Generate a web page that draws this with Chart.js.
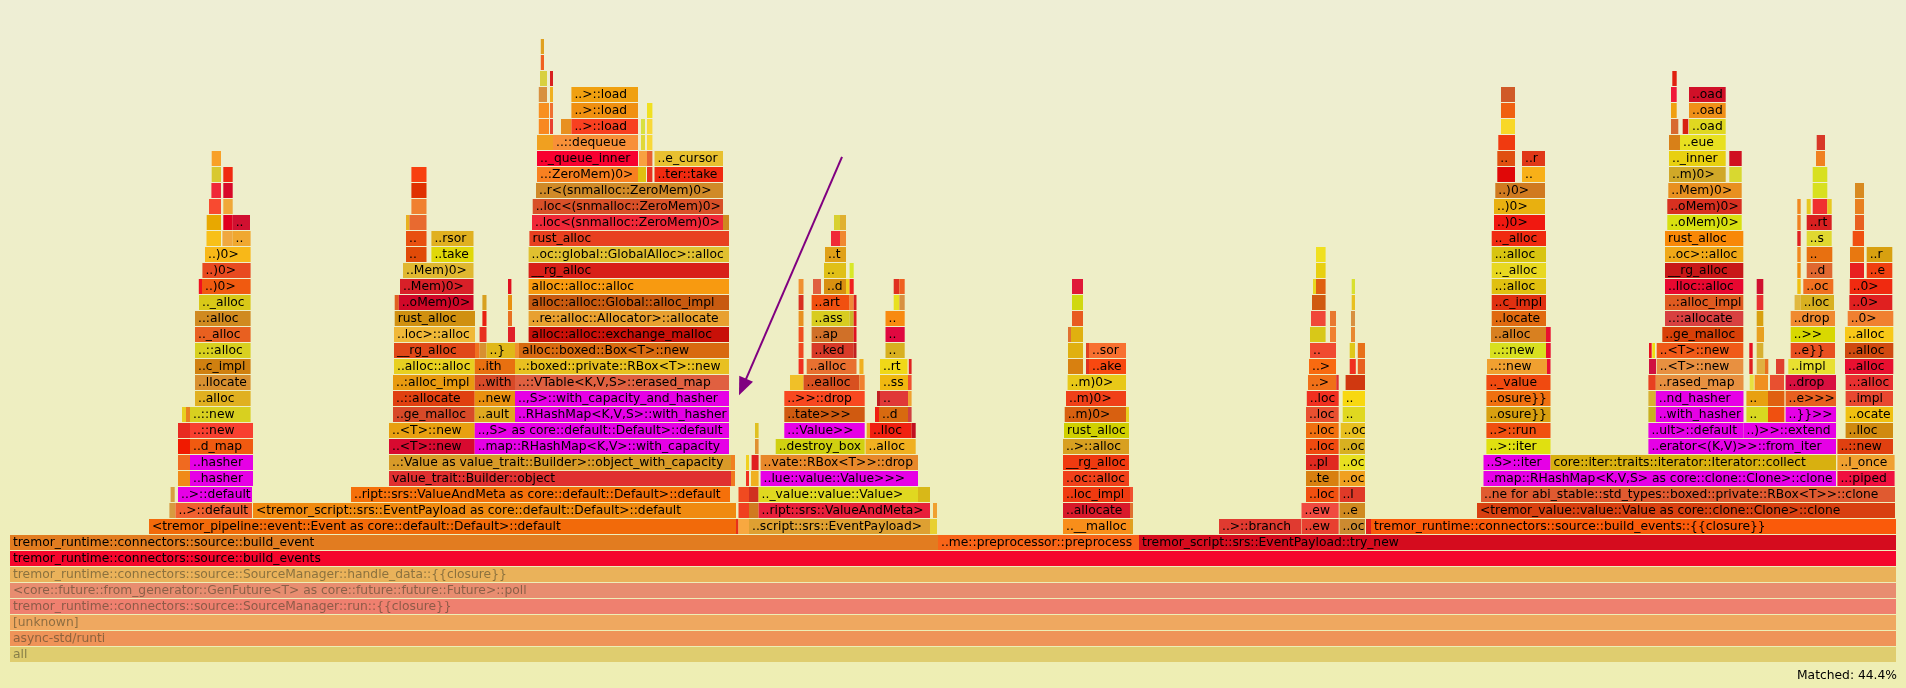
<!DOCTYPE html>
<html>
<head>
<meta charset="utf-8">
<script src="https://cdn.jsdelivr.net/npm/chart.js@4.4.1/dist/chart.umd.min.js"></script>
<style>
  html, body { margin: 0; padding: 0; background: #eeeec8; }
  #wrap { width: 1906px; height: 688px; position: relative; }
</style>
</head>
<body>
<div id="wrap"><canvas id="c" width="1906" height="688"></canvas></div>
<script>
// ---- DATA: flame graph frames per stack depth, [startSample, endSample, label] ----
const TOTAL_SAMPLES = 1886;
const MATCHED_TEXT = "Matched: 44.4%";
const DIMMED_LEVELS = [0, 1, 2, 3, 4, 5];

const L00 = [[0,1886,"all"]];
const L01 = [[0,1886,"async-std/runti"]];
const L02 = [[0,1886,"[unknown]"]];
const L03 = [[0,1886,"tremor_runtime::connectors::source::SourceManager::run::{{closure}}"]];
const L04 = [[0,1886,"<core::future::from_generator::GenFuture<T> as core::future::future::Future>::poll"]];
const L05 = [[0,1886,"tremor_runtime::connectors::source::SourceManager::handle_data::{{closure}}"]];
const L06 = [[0,1886,"tremor_runtime::connectors::source::build_events"]];
const L07 = [[0,928,"tremor_runtime::connectors::source::build_event"],[928,1129,"..me::preprocessor::preprocess"],[1129,1886,"tremor_script::srs::EventPayload::try_new"]];
const L08 = [[139,726,"<tremor_pipeline::event::Event as core::default::Default>::default"],[726,728.5,""],[728.5,739,""],[739,920,"..script::srs::EventPayload>"],[920,927,""],[1053,1120,"..__malloc"],[1120,1123,""],[1209,1291,"..>::branch"],[1291.5,1328.7,"..ew"],[1329.5,1355,"..oc"],[1356,1361,""],[1361,1886,"tremor_runtime::connectors::source::build_events::{{closure}}"]];
const L09 = [[159.4,165.5,""],[165.5,242,"..>::default"],[243,726,"<tremor_script::srs::EventPayload as core::default::Default>::default"],[728.5,739,""],[739,748.6,""],[748.6,920,"..ript::srs::ValueAndMeta>"],[923,927,""],[1053,1120,"..allocate"],[1120,1123,""],[1291.5,1328.7,"..ew"],[1329.5,1355,"..e"],[1467,1885,"<tremor_value::value::Value as core::clone::Clone>::clone"]];
const L10 = [[160.6,164.7,""],[168,242,"..>::default"],[341,720,"..ript::srs::ValueAndMeta as core::default::Default>::default"],[728.5,739,""],[739,748.6,""],[748.6,908,".._value::value::Value>"],[908,920,""],[1053,1120,"..loc_impl"],[1120,1123,""],[1296,1328.7,"..loc"],[1329.5,1355,"..l"],[1471,1885,"..ne for abi_stable::std_types::boxed::private::RBox<T>>::clone"]];
const L11 = [[168,180,""],[180,243,"..hasher"],[379,721,"value_trait::Builder::object"],[721,725,""],[736,739,""],[741,748.6,""],[750.6,908,"..lue::value::Value>>>"],[1053,1119,"..oc::alloc"],[1296,1328.7,"..te"],[1329.5,1355,"..oc"],[1473.5,1826,"..map::RHashMap<K,V,S> as core::clone::Clone>::clone"],[1827.4,1884.6,"..:piped"]];
const L12 = [[168,180,""],[180,243,"..hasher"],[379,721,"..:Value as value_trait::Builder>::object_with_capacity"],[721,725,""],[736,739,""],[741.6,748.6,""],[750.6,908,"..vate::RBox<T>>::drop"],[1053,1119,"__rg_alloc"],[1296,1328.7,"..pl"],[1329.5,1355,"..oc"],[1473.5,1540.5,"..S>::iter"],[1540.5,1826,"core::iter::traits::iterator::Iterator::collect"],[1827.4,1884.6,"..l_once"]];
const L13 = [[168,180,""],[180,243,"..d_map"],[379,464.7,"..<T>::new"],[464.7,719,"..map::RHashMap<K,V>::with_capacity"],[745,748.6,""],[765.7,854.7,"..destroy_box"],[855.5,905.7,"..alloc"],[1053,1119,"..>::alloc"],[1296,1328.7,"..loc"],[1329.5,1355,"..oc"],[1476.4,1540.5,"..>::iter"],[1638.4,1826,"..erator<(K,V)>>::from_iter"],[1827.4,1883,"..::new"]];
const L14 = [[168,180,""],[180,243,"..::new"],[379,464.7,"..<T>::new"],[464.7,719,"..,S> as core::default::Default>::default"],[745,748.6,""],[774.3,854.7,"..:Value>>"],[856.7,860,""],[860,901.6,"..lloc"],[901.6,905.7,""],[1054,1119,"rust_alloc"],[1296,1328.7,"..loc"],[1330.7,1355,"..oc"],[1476.4,1540.5,"..>::run"],[1638.4,1733.5,"..ult>::default"],[1733.5,1826,"..)>>::extend"],[1835.6,1883,"..lloc"]];
const L15 = [[172,176,""],[176,180,""],[180,240.6,"..::new"],[383,464.7,"..ge_malloc"],[464.7,505,"..ault"],[505,719,"..RHashMap<K,V,S>::with_hasher"],[774.3,854.7,"..tate>>>"],[865,869,""],[869,898,"..d"],[898,901.6,""],[1054.7,1116,"..m)0>"],[1116,1119,""],[1296,1328.7,"..loc"],[1332.7,1355,".."],[1476.4,1540.5,"..osure}}"],[1638.4,1645.8,""],[1645.8,1733.5,"..with_hasher"],[1736.4,1758,".."],[1758,1774.4,""],[1775.6,1826,"..}}>>"],[1835.6,1883,"..ocate"]];
const L16 = [[185,240.6,"..alloc"],[383,464.7,"..::allocate"],[464.7,505,"..new"],[505,719,"..,S>::with_capacity_and_hasher"],[774.3,854.7,"..>>::drop"],[867,870,""],[870,898,".."],[898,901.6,""],[1056,1116,"..m)0>"],[1296.8,1328.7,"..loc"],[1332.7,1355,".."],[1476.4,1540.5,"..osure}}"],[1638.4,1645.8,""],[1645.8,1733.5,"..nd_hasher"],[1736.4,1758,".."],[1758,1774.4,""],[1775.6,1826,"..e>>>"],[1835.6,1883,"..impl"]];
const L17 = [[185,240.6,"..llocate"],[383,464.7,"..:alloc_impl"],[464.7,505,"..with"],[505,719,"..::VTable<K,V,S>::erased_map"],[780,793.5,""],[793.5,849.4,"..ealloc"],[849.4,854.7,""],[870,898,"..ss"],[898,901.6,""],[1057.6,1116,"..m)0>"],[1298,1326.2,"..>"],[1326.2,1328.7,""],[1335.6,1355,""],[1476.4,1540.5,".._value"],[1638.4,1645.8,""],[1645.8,1733.5,"..rased_map"],[1739.7,1743.8,""],[1744.6,1758,""],[1760,1774,""],[1775.6,1826,"..drop"],[1835.6,1883,"..:alloc"]];
const L18 = [[185,240.6,"..c_impl"],[384,464.7,"..alloc::alloc"],[464.7,505,"..ith"],[505,719,"..:boxed::private::RBox<T>::new"],[788.6,793.5,""],[796.7,846.5,"..alloc"],[849.4,853.5,""],[870,897.5,"..rt"],[898.8,901.6,""],[1058,1073,""],[1076,1079,""],[1079,1116,"..ake"],[1299,1326,"..>"],[1339.7,1345.8,""],[1347.8,1355,""],[1477,1537,"..::new"],[1537,1540.5,""],[1639,1646,""],[1646.7,1733.3,"..<T>::new"],[1739.3,1742.7,""],[1746.7,1755,""],[1755,1758.3,""],[1766,1774.3,""],[1778.3,1825,"..impl"],[1835,1883.3,"..alloc"]];
const L19 = [[185,240.6,"..::alloc"],[384,465,"__rg_alloc"],[465,469.6,""],[469.6,476.5,""],[476.5,505,"..}"],[505,509,""],[509,719,"alloc::boxed::Box<T>::new"],[788.6,793.5,""],[801.6,843.7,"..ked"],[843.7,846.5,""],[875.5,894.7,".."],[1058,1073,""],[1076,1079,""],[1079,1116,"..sor"],[1300,1326,".."],[1339.7,1345,""],[1347.8,1355,""],[1480,1536,"..::new"],[1536,1540.7,""],[1639,1641.7,""],[1642.3,1645,""],[1646.7,1733.3,"..<T>::new"],[1739.3,1742.7,""],[1746.7,1753.3,""],[1780.7,1825,"..e}}"],[1835,1883.3,"..alloc"]];
const L20 = [[185,240.6,".._alloc"],[384,465,"..loc>::alloc"],[469.6,476.5,""],[498,505,""],[518.6,719,"alloc::alloc::exchange_malloc"],[788.6,793.5,""],[801.6,843.7,"..ap"],[843.7,846.5,""],[875.5,894.7,".."],[1058,1061,""],[1061,1073,""],[1300,1315.6,""],[1320,1326,""],[1341,1345,""],[1481,1536,"..alloc"],[1536,1540.7,""],[1652.3,1733.3,"..ge_malloc"],[1746.7,1754,""],[1780.7,1825,"..>>"],[1835,1883.3,"..alloc"]];
const L21 = [[185,240.6,"..:alloc"],[384.7,465,"rust_alloc"],[472.4,476.5,""],[498,502,""],[518.6,719,"..re::alloc::Allocator>::allocate"],[788.6,793.5,""],[801.6,839.6,"..ass"],[839.6,843.7,""],[843.7,846.5,""],[875.5,894.7,".."],[1062,1073,""],[1301,1315.6,""],[1320,1326,""],[1341,1345,""],[1481.7,1536,"..locate"],[1655,1733.3,"..::allocate"],[1746.7,1753.3,""],[1780.7,1825,"..drop"],[1837.7,1883.3,"..0>"]];
const L22 = [[189,240.6,".._alloc"],[384.7,388.8,""],[388.8,463.5,"..oMem)0>"],[472.4,476.5,""],[498,502,""],[518.6,719,"alloc::alloc::Global::alloc_impl"],[788.6,793.5,""],[801.6,839.6,"..art"],[839.6,843.7,""],[843.7,846.5,""],[883.7,889.4,""],[889.4,894.7,""],[1062,1073,""],[1302,1315.6,""],[1341.7,1345,""],[1481.7,1536,"..c_impl"],[1655,1733.3,"..:alloc_impl"],[1746.7,1753.3,""],[1784.6,1790.7,""],[1790.7,1824,"..loc"],[1839.3,1882.3,"..0>"]];
const L23 = [[188.8,192,""],[192,240.6,"..)0>"],[390,463.5,"..Mem)0>"],[498,501.4,""],[518.6,719,"alloc::alloc::alloc"],[788.6,793.5,""],[803,811,""],[814,836,"..d"],[836,839.6,""],[839.6,843.7,""],[883.7,889.4,""],[889.4,894.7,""],[1062,1073,""],[1303,1306,""],[1306,1315.6,""],[1341.7,1345,""],[1481.7,1536,"..:alloc"],[1655,1733.3,"..lloc::alloc"],[1746.7,1753.3,""],[1787.3,1790.7,""],[1793.3,1823.3,"..oc"],[1839.7,1882.3,"..0>"]];
const L24 = [[192.4,240.6,"..)0>"],[393,463.5,"..Mem)0>"],[518.6,719,"__rg_alloc"],[814,836,".."],[839.6,843.7,""],[1306,1315.6,""],[1481.7,1536,".._alloc"],[1655,1733.3,"__rg_alloc"],[1787.3,1790.7,""],[1796.7,1822.3,"..d"],[1840,1854,""],[1856.7,1882.3,"..e"]];
const L25 = [[195,240.6,"..)0>"],[396,416.5,".."],[421.4,463.5,"..take"],[518.6,719,"..oc::global::GlobalAlloc>::alloc"],[815,836,"..t"],[1306,1315.6,""],[1481.7,1536,"..:alloc"],[1655,1733.3,"..oc>::alloc"],[1787.3,1790.7,""],[1796.7,1822.3,".."],[1840,1854,""],[1856.7,1882.3,"..r"]];
const L26 = [[196.5,211,""],[212.4,222.6,""],[222.6,240.6,".."],[396,416.5,".."],[421.4,463.5,"..rsor"],[519.4,719,"rust_alloc"],[821,830,""],[830,836,""],[1481.7,1536,".._alloc"],[1655,1733.3,"rust_alloc"],[1787.3,1790.7,""],[1796.7,1821.7,"..s"],[1842.7,1854,""]];
const L27 = [[196.7,211,""],[213.3,222.7,""],[222.7,240,".."],[396,399.4,""],[399.4,416.5,""],[522,713,"..loc<(snmalloc::ZeroMem)0>"],[713,719,""],[824,830,""],[830,836,""],[1484,1535,"..)0>"],[1657.3,1731.7,"..oMem)0>"],[1787.3,1790.7,""],[1796.7,1821.7,"..rt"],[1845,1854,""]];
const L28 = [[199,211,""],[213.3,222.7,""],[401.4,416.5,""],[522.7,713,"..loc<(snmalloc::ZeroMem)0>"],[1484,1535,"..)0>"],[1657.3,1731.7,"..oMem)0>"],[1787.3,1790.7,""],[1796.7,1800.7,""],[1802.7,1817.3,""],[1817.3,1821.7,""],[1845,1854,""]];
const L29 = [[201.4,211,""],[213.3,222.7,""],[401.4,416.5,""],[526,713,"..r<(snmalloc::ZeroMem)0>"],[1485.3,1535,"..)0>"],[1658.3,1731.7,"..Mem)0>"],[1802.7,1817.3,""],[1845,1854,""]];
const L30 = [[201.7,211,""],[213.3,222.7,""],[401.4,416.5,""],[527,628,"..:ZeroMem)0>"],[628,636,""],[637,642.4,""],[644.5,713,"..ter::take"],[1487.3,1505,""],[1512,1535,".."],[1659,1715.7,"..m)0>"],[1719.3,1731.7,""],[1802.7,1817.3,""]];
const L31 = [[201.7,211,""],[527,628,".._queue_inner"],[629,637,""],[637,642.4,""],[644.5,713,"..e_cursor"],[1487.3,1505,".."],[1512,1535,"..r"],[1659,1715.7,".._inner"],[1719.3,1731.7,""],[1806,1815,""]];
const L32 = [[527,543,""],[543,628,"..::dequeue"],[631,635,""],[637,642.4,""],[1488.3,1505,""],[1659,1670,""],[1670,1715.7,"..eue"],[1806.7,1815,""]];
const L33 = [[528.8,539,""],[540,543,""],[551,561.4,""],[561.4,628,"..>::load"],[631,635,""],[637,642.4,""],[1491,1505,""],[1661,1668.3,""],[1672.7,1678.3,""],[1679,1715.7,"..oad"]];
const L34 = [[528.8,539,""],[540,543,""],[561.4,628,"..>::load"],[637,642.4,""],[1491,1505,""],[1661,1666.7,""],[1679,1715.7,"..oad"]];
const L35 = [[528.8,537,""],[540,543,""],[561.4,628,"..>::load"],[1491,1505,""],[1661,1666.7,""],[1679,1715.7,"..oad"]];
const L36 = [[530,537,""],[540,543,""],[1662.3,1666.7,""]];
const L37 = [[530.8,534,""]];
const L38 = [[530.8,534,""]];

// ---- STYLE: frame fill colours, parallel to each level's frames ----
const M = "#e600e6"; // search-matched frames
const C00 = ["#dfcd6f"];
const C01 = ["#ef9358"];
const C02 = ["#efa860"];
const C03 = ["#ef806f"];
const C04 = ["#e88d70"];
const C05 = ["#eab25a"];
const C06 = ["#f5062c"];
const C07 = ["#e27c20","#f86418","#d50c1e"];
const C08 = ["#f26a0a","#e8301a","#f8a840","#dea032","#e8d030","#f88e1a","#e0a020","#e03a30","#e84030","#cc8a30","#e02020","#fa5a0a"];
const C09 = ["#d89a40","#f06030","#f08a10","#f04020","#d07a20","#e8203a","#f0a030","#d81a2a","#e07030","#f04a40","#d08a20","#d84010"];
const C10 = ["#d8a040",M,"#f5700a","#f04a20","#d03020","#e0d820","#d8b818","#f03a10","#f05030","#f05010","#e03a28","#e05a30"];
const C11 = ["#f08a18",M,"#e03030","#f07820","#f03020","#f0b020",M,"#f0401a","#d88010","#f0a020",M,"#f01040"];
const C12 = ["#f06a20",M,"#d89a28","#f08020","#f0d020","#e02020","#e8882a","#f03a10","#e02a20","#e8e020",M,"#d8b010","#f0a030"];
const C13 = ["#f01a00","#f05a10","#d80a30",M,"#e09030","#d0d010","#f0b020","#d8a020","#f04a10","#d8b020","#e0e010",M,"#e04010"];
const C14 = ["#e82a20","#f84030","#e8a010",M,"#e0c020",M,"#f0a020","#f02010","#c01020","#d0d000","#f07010","#e8c020","#f05010",M,M,"#d08a10"];
const C15 = ["#e8d020","#e88020","#d8d020","#d84a28","#e0a820",M,"#d05a10","#f02010","#d86a10","#d04040","#d86010","#e8d020","#e85030","#e0d820","#d8a010","#c8b020",M,"#d8d820","#f05010",M,"#f0c010"];
const C16 = ["#e0b020","#e04010","#e89010",M,"#f84820","#c02020","#e03838","#f0a030","#f04018","#f03020","#f8d810","#f07010","#d8b030",M,"#e8a010","#e06010","#e86020","#e84830"];
const C17 = ["#d89030","#e89a10","#d84a28","#e06040","#f0c028","#d85020","#f08030","#f0b810","#f05030","#e8c818","#f07018","#e03030","#d03810","#f04a10","#e84020","#e89040","#e8e040","#f09020","#e85030","#d81040","#e83030"];
const C18 = ["#d08010","#e8d020","#e87010","#e8c020","#f03020","#e87030","#f0b020","#f0d818","#e02020","#d88010","#e03020","#f84810","#f86a10","#f03020","#e86020","#f0a030","#e81030","#d01040","#e89040","#e02020","#e0b040","#e87020","#e04030","#e8e030","#e81030"];
const C19 = ["#d8d020","#e04818","#f07020","#d89030","#e0b818","#f09030","#d86a10","#f04820","#d83a28","#c02020","#d8b020","#e0b010","#e04020","#f87030","#f04a30","#e0c818","#e87018","#d8e020","#e81030","#e81020","#f0e010","#f05a18","#e81020","#d8b030","#e85020","#d04a10"];
const C20 = ["#e86020","#f0b838","#e83020","#e02028","#c81008","#f05020","#d07028","#e01020","#e00840","#e07030","#e0b010","#d8c818","#f08030","#e88830","#d88020","#e81030","#d84008","#e8a020","#d8d800","#f8c818"];
const C21 = ["#d08a20","#d09010","#e82010","#e87020","#e8a030","#e89020","#d8cc20","#c8b828","#e02020","#f88a10","#e85a20","#f04838","#e87830","#d89040","#e06a10","#d84040","#d8a010","#f08a30","#f08030"];
const C22 = ["#d8c818","#e06020","#d00828","#d8a020","#e89010","#c85a10","#d83020","#f05010","#f08838","#d82020","#e8e020","#d89040","#d0d810","#d05a10","#e8c020","#e03010","#e05a20","#e83030","#e0b840","#d8b020","#e02020"];
const C23 = ["#f01020","#f05a10","#d82028","#e01020","#f89a10","#f09030","#e06040","#d89010","#f0d020","#f02020","#e03020","#f06020","#e01838","#e8d820","#e06010","#d8e030","#e0c010","#e80830","#d01030","#f0c010","#f07020","#f02a10"];
const C24 = ["#e84a20","#e0b830","#d82018","#e0c018","#d8e828","#e8d010","#e8d820","#c81818","#f09010","#e06830","#e82020","#f04010"];
const C25 = ["#f8b818","#e04a08","#e0d808","#e0c030","#e0a018","#f0e020","#d8c410","#f0a818","#f08820","#e87010","#e87810","#d8a010"];
const C26 = ["#f8c018","#f0a840","#f0a830","#e85010","#e0b020","#e84020","#f02838","#f08830","#f02a10","#f88808","#e02020","#e0d830","#f05010"];
const C27 = ["#e8a800","#e00020","#d01030","#e8b020","#e86a30","#f02838","#d08820","#d8d030","#e0b030","#f01810","#d8e010","#f08020","#d82020","#e86020"];
const C28 = ["#f84a30","#f0a838","#f08030","#d85028","#e8b010","#d83020","#f08820","#e8c820","#f03030","#e8c820","#e88020"];
const C29 = ["#f02838","#d80828","#e03000","#d08a28","#d07a20","#e89020","#d8e020","#d88a20"];
const C30 = ["#d8c830","#f02a10","#f84010","#f88020","#e0c010","#e83020","#f02a10","#e00808","#f8b018","#d0a828","#d8d830","#d8e020"];
const C31 = ["#f8a028","#f80030","#f8a040","#e86030","#e8c030","#e05010","#e03818","#e8d010","#d01020","#f08020"];
const C32 = ["#f0a020","#f89038","#e0d838","#f8d838","#f03a10","#d88018","#e8e020","#d83828"];
const C33 = ["#f88820","#e84030","#e89020","#f84020","#d8e040","#f8d838","#f8d828","#d86a30","#d82010","#e0d820"];
const C34 = ["#f89020","#f07030","#f09010","#f0e020","#f06010","#f0a010","#f09018"];
const C35 = ["#d89040","#f0b020","#f0a010","#d05a28","#f01838","#d01028"];
const C36 = ["#d8d040","#d82020","#e02010"];
const C37 = ["#f06020"];
const C38 = ["#e0a020"];

const levelFrames = [L00,L01,L02,L03,L04,L05,L06,L07,L08,L09,L10,L11,L12,L13,L14,L15,L16,L17,L18,L19,L20,L21,L22,L23,L24,L25,L26,L27,L28,L29,L30,L31,L32,L33,L34,L35,L36,L37,L38];
const levelColors = [C00,C01,C02,C03,C04,C05,C06,C07,C08,C09,C10,C11,C12,C13,C14,C15,C16,C17,C18,C19,C20,C21,C22,C23,C24,C25,C26,C27,C28,C29,C30,C31,C32,C33,C34,C35,C36,C37,C38];
const levelTicks = levelFrames.map((_, i) => String(i));

// Annotation arrow in data units: [sample, stack depth]
const arrowFrom = [832, 31.1];
const arrowTo = [729, 16.2];

// ---- build chart data ----
const points = [], fills = [], labels = [], levelsOf = [];
levelFrames.forEach((frames, lv) => {
  const cols = levelColors[lv];
  if (cols.length !== frames.length) console.warn('colour mismatch at level', lv, frames.length, cols.length);
  frames.forEach((f, i) => {
    points.push({ x: [f[0], f[1]], y: String(lv) });
    fills.push(cols[i] || '#e8801e');
    labels.push(f[2]);
    levelsOf.push(lv);
  });
});

const FONT = '12.3px "DejaVu Sans", Verdana, sans-serif';

const bgPlugin = {
  id: 'bg',
  beforeDraw(chart) {
    const ctx = chart.ctx;
    const g = ctx.createLinearGradient(0, 0, 0, chart.height);
    g.addColorStop(0, '#eeeed5');
    g.addColorStop(1, '#eeeeb3');
    ctx.save();
    ctx.fillStyle = g;
    ctx.fillRect(0, 0, chart.width, chart.height);
    ctx.restore();
  }
};

const labelPlugin = {
  id: 'frameLabels',
  afterDatasetsDraw(chart) {
    const ctx = chart.ctx;
    const meta = chart.getDatasetMeta(0);
    ctx.save();
    ctx.font = FONT;
    ctx.textBaseline = 'alphabetic';
    ctx.textAlign = 'left';
    meta.data.forEach((el, i) => {
      const txt = labels[i];
      if (!txt) return;
      const p = el.getProps(['x', 'y', 'base', 'height'], true);
      const left = Math.min(p.x, p.base);
      const w = Math.abs(p.x - p.base);
      const top = p.y - p.height / 2;
      ctx.save();
      ctx.beginPath();
      ctx.rect(left, top, w, p.height);
      ctx.clip();
      ctx.fillStyle = DIMMED_LEVELS.includes(levelsOf[i]) ? 'rgba(60,60,40,0.55)' : '#000000';
      ctx.fillText(txt, left + 3, top + 11.3);
      ctx.restore();
    });
    ctx.restore();
  },
  afterDraw(chart) {
    const ctx = chart.ctx;
    const xs = chart.scales.x, ys = chart.scales.y;
    const x1 = xs.getPixelForValue(arrowFrom[0]), y1 = ys.getPixelForValue(arrowFrom[1]);
    const x2 = xs.getPixelForValue(arrowTo[0]), y2 = ys.getPixelForValue(arrowTo[1]);
    const dx = x2 - x1, dy = y2 - y1, len = Math.hypot(dx, dy);
    const ux = dx / len, uy = dy / len;
    const headL = 18, headW = 7.5;
    const bx = x2 - ux * headL, by = y2 - uy * headL;
    ctx.save();
    ctx.strokeStyle = '#800080';
    ctx.fillStyle = '#800080';
    ctx.lineWidth = 2;
    ctx.beginPath();
    ctx.moveTo(x1, y1);
    ctx.lineTo(bx + ux * 2, by + uy * 2);
    ctx.stroke();
    ctx.beginPath();
    ctx.moveTo(x2, y2);
    ctx.lineTo(bx - uy * headW, by + ux * headW);
    ctx.lineTo(bx + uy * headW, by - ux * headW);
    ctx.closePath();
    ctx.fill();
    // matched text
    ctx.font = FONT;
    ctx.fillStyle = '#000000';
    ctx.textAlign = 'right';
    ctx.textBaseline = 'alphabetic';
    ctx.fillText(MATCHED_TEXT, xs.right + 1, chart.height - 9);
    ctx.restore();
  }
};

new Chart(document.getElementById('c'), {
  type: 'bar',
  data: {
    labels: levelTicks,
    datasets: [{
      data: points,
      backgroundColor: fills,
      borderWidth: 0,
      categoryPercentage: 1,
      barPercentage: 15 / 16
    }]
  },
  options: {
    indexAxis: 'y',
    responsive: false,
    devicePixelRatio: 1,
    animation: false,
    layout: { padding: { left: 10, right: 10, top: 38.5, bottom: 25.5 } },
    scales: {
      x: { type: 'linear', min: 0, max: TOTAL_SAMPLES, display: false, grid: { display: false } },
      y: { type: 'category', reverse: true, display: false, grid: { display: false } }
    },
    plugins: { legend: { display: false }, tooltip: { enabled: false } }
  },
  plugins: [bgPlugin, labelPlugin]
});
</script>
</body>
</html>
